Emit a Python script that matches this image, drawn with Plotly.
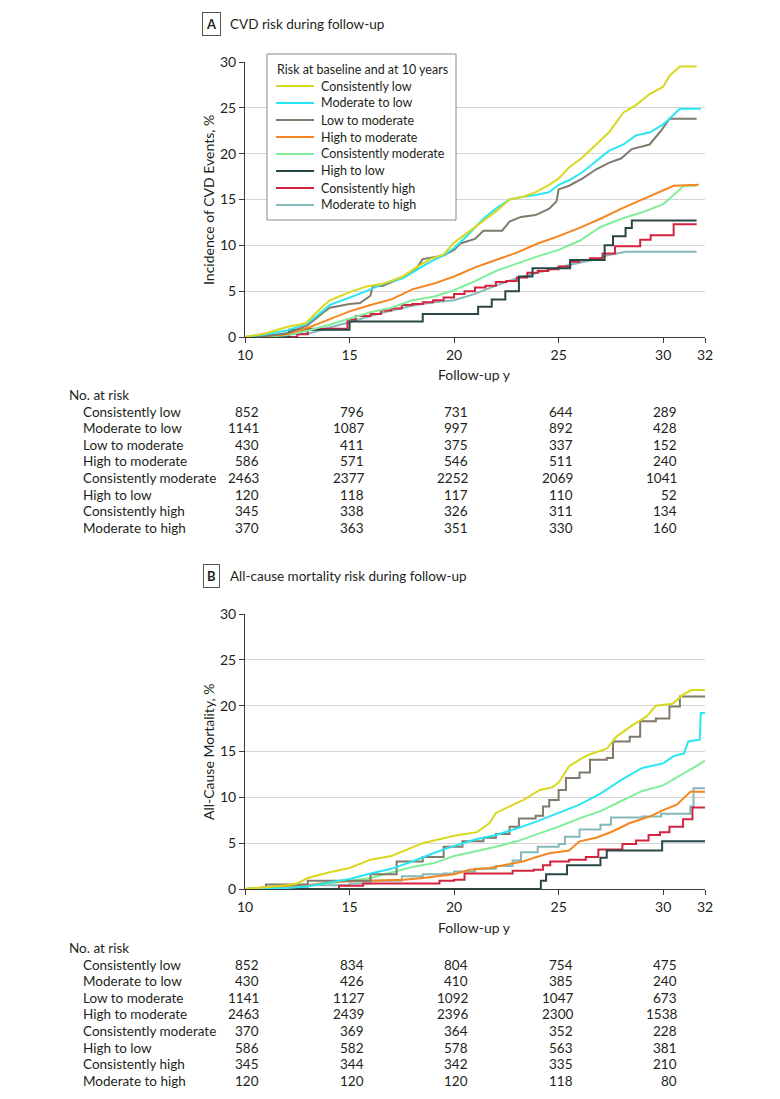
import plotly.graph_objects as go

W, H = 780, 1099

# ---------------- data ----------------
GROUPS = ["Consistently low", "Moderate to low", "Low to moderate", "High to moderate",
          "Consistently moderate", "High to low", "Consistently high", "Moderate to high"]
COLORS = ["#d8d820", "#2ae6f2", "#7f7a6c", "#f5861f", "#80ee9a", "#2a4747", "#d3253f", "#85b8ba"]
TICKS = [10, 15, 20, 25, 30, 32]
RISK_TIMES = [10, 15, 20, 25, 30]

# Panel A: CVD incidence (%)
A_LOW_T = [10, 11, 12, 12.9, 13.7, 14.06, 15, 15.8, 16.6, 17.55, 18.2, 18.85, 19.5, 20, 20.6, 21.4, 22, 22.65, 23.3, 23.9, 24.55, 25, 25.5, 26.15, 26.8, 27.4, 28.1, 28.7, 29.35, 30, 30.3, 30.8, 31.6]
A_LOW_V = [0, 0.4, 1.1, 1.5, 3.3, 4.0, 4.9, 5.5, 5.8, 6.6, 7.6, 8.5, 9.0, 10.3, 11.3, 12.7, 13.7, 15.0, 15.3, 15.8, 16.6, 17.3, 18.5, 19.6, 21.0, 22.3, 24.5, 25.3, 26.5, 27.3, 28.5, 29.5, 29.5]
A_MODLOW_T = [10, 11, 12, 13, 13.7, 14.06, 15, 15.8, 16.6, 17.55, 18.2, 18.85, 19.5, 20, 20.6, 21.4, 22, 22.65, 23.3, 23.9, 24.55, 25, 25.5, 26.15, 26.8, 27.4, 28.1, 28.7, 29.35, 30, 30.3, 30.8, 31.8]
A_MODLOW_V = [0, 0.3, 0.7, 1.5, 2.8, 3.5, 4.3, 5.0, 5.8, 6.4, 7.3, 8.2, 8.9, 9.7, 11.0, 12.9, 14.0, 15.0, 15.3, 15.5, 15.8, 16.6, 17.1, 18.0, 19.2, 20.3, 21.0, 22.0, 22.3, 23.2, 23.8, 24.9, 24.9]
A_LOWMOD_T = [10, 11, 12, 13, 13.7, 14.06, 15, 15.5, 16.0, 16.1, 16.6, 17.55, 18.2, 18.5, 19.5, 20, 20.3, 21.0, 21.4, 22.3, 22.65, 23.2, 23.9, 24.55, 24.9, 25.0, 25.5, 26.15, 26.8, 27.4, 28.0, 28.5, 29.35, 29.9, 30.3, 31.6]
A_LOWMOD_V = [0, 0.1, 0.4, 1.3, 2.6, 3.2, 3.6, 3.7, 4.5, 5.5, 5.6, 6.5, 7.5, 8.5, 8.9, 9.5, 10.2, 10.7, 11.6, 11.6, 12.6, 13.1, 13.3, 14.0, 14.8, 16.1, 16.5, 17.3, 18.3, 19.0, 19.5, 20.5, 21.0, 22.5, 23.8, 23.8]
A_HIGHMOD_T = [10, 11, 12, 13, 14, 15, 16, 17, 18, 19, 20, 21, 22, 23, 24, 25, 26, 27, 28, 29, 30, 30.5, 31.7]
A_HIGHMOD_V = [0, 0.1, 0.3, 1.0, 1.9, 2.8, 3.5, 4.1, 5.2, 5.8, 6.6, 7.6, 8.4, 9.2, 10.2, 11.0, 11.9, 12.9, 14.0, 15.0, 16.0, 16.5, 16.6]
A_CONSMOD_T = [10, 11, 12, 13, 14, 15, 16, 17, 18, 19, 20, 21, 22, 23, 24, 25, 26, 27, 28, 29, 30, 30.5, 31, 31.6]
A_CONSMOD_V = [0, 0.05, 0.2, 0.7, 1.3, 2.0, 2.7, 3.2, 4.0, 4.4, 5.1, 6.1, 7.2, 8.0, 8.8, 9.5, 10.5, 12.0, 12.9, 13.6, 14.5, 15.5, 16.5, 16.5]
A_HIGHLOW_T = [10, 12.1, 15.0, 18.5, 21.15, 21.8, 22.45, 23.1, 23.75, 25.55, 27.2, 27.6, 28.2, 28.5, 31.6]
A_HIGHLOW_V = [0, 0.8, 1.7, 2.5, 3.3, 4.1, 5.0, 6.6, 7.5, 8.4, 10.0, 11.0, 11.9, 12.7, 12.7]
A_CONSHIGH_T = [10, 12.5, 13.0, 14.9, 15.3, 16.0, 16.5, 17.0, 17.5, 18.0, 18.5, 19.0, 19.5, 20.0, 20.5, 21.0, 21.5, 22.0, 22.5, 23.0, 23.5, 24.0, 24.5, 25.0, 25.55, 26.0, 26.5, 27.1, 27.7, 28.9, 29.4, 30.5, 31.6]
A_CONSHIGH_V = [0, 0.3, 0.9, 1.9, 2.3, 2.5, 2.9, 3.1, 3.5, 3.6, 3.8, 4.0, 4.3, 4.7, 5.0, 5.4, 5.6, 6.0, 6.1, 6.5, 7.0, 7.2, 7.4, 7.7, 8.2, 8.4, 8.6, 9.1, 9.9, 10.6, 11.1, 12.3, 12.3]
A_MODHIGH_T = [10, 13.1, 14, 15, 16, 17, 18, 19, 20, 21, 22, 23, 24, 25, 26, 27, 27.3, 28.2, 31.6]
A_MODHIGH_V = [0, 0.4, 1.0, 1.6, 2.3, 2.9, 3.4, 3.8, 4.0, 4.7, 5.6, 6.4, 7.0, 7.6, 8.1, 8.6, 8.9, 9.3, 9.3]

# Panel B: all-cause mortality (%)
B_LOW_T = [10, 10.5, 11, 12, 12.5, 13, 14, 15, 16, 17, 18.5, 20, 21.1, 21.7, 22, 22.65, 23.3, 24.1, 24.7, 25, 25.5, 26.15, 26.5, 27.3, 27.75, 28.55, 29.2, 29.65, 30.45, 30.95, 31.35, 32]
B_LOW_V = [0, 0.1, 0.2, 0.4, 0.6, 1.2, 1.8, 2.3, 3.2, 3.6, 5.0, 5.8, 6.2, 7.2, 8.3, 9.0, 9.7, 10.8, 11.1, 11.6, 13.4, 14.3, 14.7, 15.3, 16.6, 17.9, 18.8, 20.0, 20.2, 21.2, 21.7, 21.7]
B_MODLOW_T = [10, 11, 12, 13, 14, 15, 16, 17, 18, 19, 20, 21, 22, 23, 24, 25, 26, 27, 28, 29, 30, 30.5, 31, 31.2, 31.75, 31.8, 32]
B_MODLOW_V = [0, 0.05, 0.1, 0.3, 0.7, 1.1, 1.7, 2.2, 3.0, 3.9, 4.7, 5.4, 5.9, 6.6, 7.4, 8.3, 9.2, 10.4, 11.9, 13.2, 13.7, 14.5, 14.8, 16.1, 16.3, 19.2, 19.2]
B_LOWMOD_T = [10, 11, 13, 14.5, 16, 17.25, 18.5, 19.5, 20.4, 21.4, 22, 22.65, 23.1, 23.9, 24.25, 24.55, 25, 25.35, 26, 26.5, 27.3, 27.6, 28.4, 28.9, 29.65, 30.3, 30.8, 32]
B_LOWMOD_V = [0, 0.5, 0.9, 0.9, 1.6, 3.0, 3.5, 4.6, 5.2, 5.6, 6.0, 6.8, 7.7, 8.0, 9.0, 9.7, 10.8, 12.1, 12.7, 14.1, 14.3, 16.1, 16.6, 18.3, 18.6, 19.9, 21.0, 21.0]
B_HIGHMOD_T = [10, 11, 12, 13, 14.2, 17.6, 18.5, 20, 20.75, 21.7, 22.35, 23.3, 23.95, 24.55, 25.5, 26, 26.8, 27.6, 28.4, 29.35, 30, 30.65, 31.3, 32]
B_HIGHMOD_V = [0, 0.2, 0.3, 0.4, 0.8, 1.0, 1.2, 1.6, 2.1, 2.3, 2.6, 3.0, 3.5, 3.9, 4.2, 5.2, 5.6, 6.3, 7.2, 7.9, 8.6, 9.2, 10.6, 10.6]
B_CONSMOD_T = [10, 11, 12, 13, 14, 15, 16, 17, 18, 19, 20, 21, 22, 23, 24, 25, 26, 27, 28, 29, 30, 31, 31.5, 32]
B_CONSMOD_V = [0, 0.1, 0.2, 0.4, 0.6, 0.9, 1.2, 1.8, 2.4, 2.8, 3.6, 4.1, 4.6, 5.2, 6.0, 6.8, 7.7, 8.5, 9.6, 10.7, 11.3, 12.6, 13.3, 14.0]
B_HIGHLOW_T = [10, 24.15, 24.4, 25.4, 27.0, 27.3, 29.95, 32]
B_HIGHLOW_V = [0, 0.9, 1.6, 2.6, 3.4, 4.2, 5.2, 5.2]
B_CONSHIGH_T = [10, 14.5, 15.65, 19.3, 20.0, 20.5, 22.8, 23.8, 24.25, 24.6, 25.5, 26.3, 26.9, 28.05, 28.7, 29.3, 29.85, 30.3, 30.95, 31.4, 32]
B_CONSHIGH_V = [0, 0.35, 0.6, 0.9, 1.0, 1.7, 2.0, 2.1, 2.6, 3.0, 3.2, 3.5, 4.3, 4.9, 5.3, 5.9, 6.2, 6.8, 7.6, 8.9, 8.9]
B_MODHIGH_T = [10, 11.3, 13, 15, 16, 17.5, 18.5, 19.5, 20, 21, 22, 22.8, 23.2, 24, 25, 25.3, 26, 27, 27.5, 29, 29.9, 31, 31.3, 31.45, 32]
B_MODHIGH_V = [0, 0.2, 0.4, 0.6, 0.9, 1.4, 1.6, 1.7, 1.9, 2.2, 2.5, 3.1, 4.0, 4.6, 4.9, 5.7, 6.5, 7.0, 7.8, 7.9, 8.2, 8.2, 9.0, 11.0, 11.0]

# Number at risk
A_RISK = {
    "Consistently low": [852, 796, 731, 644, 289],
    "Moderate to low": [1141, 1087, 997, 892, 428],
    "Low to moderate": [430, 411, 375, 337, 152],
    "High to moderate": [586, 571, 546, 511, 240],
    "Consistently moderate": [2463, 2377, 2252, 2069, 1041],
    "High to low": [120, 118, 117, 110, 52],
    "Consistently high": [345, 338, 326, 311, 134],
    "Moderate to high": [370, 363, 351, 330, 160],
}
B_RISK = {
    "Consistently low": [852, 834, 804, 754, 475],
    "Moderate to low": [430, 426, 410, 385, 240],
    "Low to moderate": [1141, 1127, 1092, 1047, 673],
    "High to moderate": [2463, 2439, 2396, 2300, 1538],
    "Consistently moderate": [370, 369, 364, 352, 228],
    "High to low": [586, 582, 578, 563, 381],
    "Consistently high": [345, 344, 342, 335, 210],
    "Moderate to high": [120, 120, 120, 118, 80],
}

A_SERIES = [(A_LOW_T, A_LOW_V), (A_MODLOW_T, A_MODLOW_V), (A_LOWMOD_T, A_LOWMOD_V),
            (A_HIGHMOD_T, A_HIGHMOD_V), (A_CONSMOD_T, A_CONSMOD_V), (A_HIGHLOW_T, A_HIGHLOW_V),
            (A_CONSHIGH_T, A_CONSHIGH_V), (A_MODHIGH_T, A_MODHIGH_V)]
B_SERIES = [(B_LOW_T, B_LOW_V), (B_MODLOW_T, B_MODLOW_V), (B_LOWMOD_T, B_LOWMOD_V),
            (B_HIGHMOD_T, B_HIGHMOD_V), (B_CONSMOD_T, B_CONSMOD_V), (B_HIGHLOW_T, B_HIGHLOW_V),
            (B_CONSHIGH_T, B_CONSHIGH_V), (B_MODHIGH_T, B_MODHIGH_V)]
# line shape per group (step for sparse-event groups)
A_SHAPES = ["linear", "linear", "linear", "linear", "linear", "hv", "hv", "linear"]
B_SHAPES = ["linear", "linear", "hv", "linear", "linear", "hv", "hv", "hv"]
LEGEND_TITLE = "Risk at baseline and at 10 years"

# ---------------- figure ----------------
FONT = "Lato, Liberation Sans, Arial, sans-serif"
TXT = "#231f20"


def px(x):
    return x / W


def py(y):
    return 1 - y / H


fig = go.Figure()
draw_order = [7, 6, 5, 4, 3, 2, 1, 0]
for panel, series, shapes, xa, ya in (("A", A_SERIES, A_SHAPES, "x", "y"), ("B", B_SERIES, B_SHAPES, "x2", "y2")):
    for i in draw_order:
        t, v = series[i]
        fig.add_trace(go.Scatter(
            x=t, y=v, mode="lines", name=GROUPS[i],
            line=dict(color=COLORS[i], width=2, shape=shapes[i]),
            xaxis=xa, yaxis=ya, showlegend=False, hoverinfo="skip"))

xdom = [px(245), px(705)]
axis_common = dict(showline=True, linecolor="#3a3a3a", linewidth=1, ticks="outside",
                   ticklen=5, tickcolor="#3a3a3a", tickfont=dict(family=FONT, size=14, color=TXT),
                   zeroline=False)
fig.update_layout(
    width=W, height=H, margin=dict(l=0, r=0, t=0, b=0, autoexpand=False),
    paper_bgcolor="white", plot_bgcolor="white",
    xaxis=dict(domain=xdom, range=[10, 32], tickvals=TICKS, showgrid=False, anchor="y", **axis_common),
    yaxis=dict(domain=[py(337), py(62)], range=[0, 30], tickvals=[0, 5, 10, 15, 20, 25, 30],
               showgrid=True, gridcolor="#d6d6d6", gridwidth=1, anchor="x", **axis_common),
    xaxis2=dict(domain=xdom, range=[10, 32], tickvals=TICKS, showgrid=False, anchor="y2", **axis_common),
    yaxis2=dict(domain=[py(889), py(614)], range=[0, 30], tickvals=[0, 5, 10, 15, 20, 25, 30],
                showgrid=True, gridcolor="#d6d6d6", gridwidth=1, anchor="x2", **axis_common),
    showlegend=False,
)

# ---- legend box for panel A (drawn as shapes + text) ----
shapes = [dict(type="rect", xref="paper", yref="paper", x0=px(267), x1=px(456), y0=py(220), y1=py(54),
               line=dict(color="#8a8a8a", width=1), fillcolor="white", layer="above")]
ann = [dict(x=px(275), y=py(69), xref="paper", yref="paper", text=LEGEND_TITLE, showarrow=False,
            font=dict(family=FONT, size=12.5, color=TXT), xanchor="left", yanchor="middle")]
for i, g in enumerate(GROUPS):
    yy = py(86 + 17 * i)
    shapes.append(dict(type="line", xref="paper", yref="paper", x0=px(276), x1=px(314), y0=yy, y1=yy,
                       line=dict(color=COLORS[i], width=2), layer="above"))
    ann.append(dict(x=px(319), y=yy, xref="paper", yref="paper", text=g, showarrow=False,
                    font=dict(family=FONT, size=12.5, color=TXT), xanchor="left", yanchor="middle"))

for label, title, ytop, ycen, ytitle, xref, tab_top, risk in (
        ("A", "CVD risk during follow-up", 24, 200, "Incidence of CVD Events, %", "x", 395, A_RISK),
        ("B", "All-cause mortality risk during follow-up", 576, 752, "All-Cause Mortality, %", "x2", 948, B_RISK)):
    ann.append(dict(x=px(211), y=py(ytop), xref="paper", yref="paper", text="<b>%s</b>" % label,
                    showarrow=False, font=dict(family=FONT, size=13, color=TXT),
                    bordercolor="#555", borderwidth=1, borderpad=3, xanchor="center", yanchor="middle"))
    ann.append(dict(x=px(228), y=py(ytop), xref="paper", yref="paper", text=title, showarrow=False,
                    font=dict(family=FONT, size=13.5, color=TXT), xanchor="left", yanchor="middle"))
    ann.append(dict(x=px(208), y=py(ycen), xref="paper", yref="paper", text=ytitle, showarrow=False,
                    textangle=-90, font=dict(family=FONT, size=14, color=TXT), xanchor="center", yanchor="middle"))
    ann.append(dict(x=px(475), y=py(tab_top - 21), xref="paper", yref="paper", text="Follow-up y", showarrow=False,
                    font=dict(family=FONT, size=14, color=TXT), xanchor="center", yanchor="middle"))
    ann.append(dict(x=px(67), y=py(tab_top), xref="paper", yref="paper", text="No. at risk", showarrow=False,
                    font=dict(family=FONT, size=13.5, color=TXT), xanchor="left", yanchor="middle"))
    for r, g in enumerate(GROUPS):
        yy = py(tab_top + 16.6 * (r + 1))
        ann.append(dict(x=px(81), y=yy, xref="paper", yref="paper", text=g, showarrow=False,
                        font=dict(family=FONT, size=13.5, color=TXT), xanchor="left", yanchor="middle"))
        for c, tv in enumerate(RISK_TIMES):
            ann.append(dict(x=tv, y=yy, xref=xref, yref="paper", text=str(risk[g][c]), showarrow=False,
                            xshift=16, font=dict(family=FONT, size=13.5, color=TXT),
                            xanchor="right", yanchor="middle"))
fig.update_layout(annotations=ann, shapes=shapes)

fig.write_html("out.html", config={"displayModeBar": False},
               post_script="document.body.style.margin='0px';document.body.style.padding='0px';")
